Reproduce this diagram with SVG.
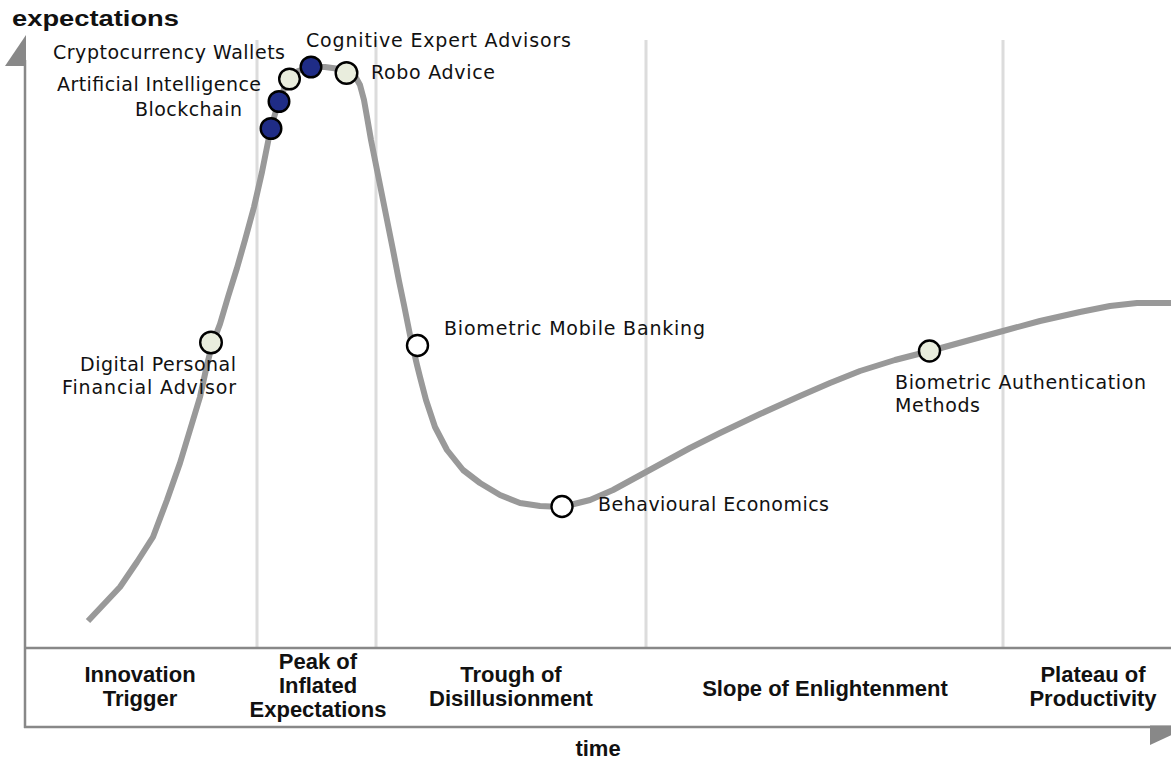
<svg xmlns="http://www.w3.org/2000/svg" width="1171" height="759" viewBox="0 0 1171 759">
<style>
.grid{stroke:#dcdcdc;stroke-width:3;fill:none}
.axis{stroke:#888;stroke-width:2.5;fill:none}
.curve{stroke:#999;stroke-width:6;fill:none;stroke-linejoin:round;stroke-linecap:butt}
.node{stroke:#000;stroke-width:2.4}
.dark{fill:#1f2c86}
.light{fill:#e9eddd}
.white{fill:#fff}
.lbl{font-family:"DejaVu Sans","Verdana",sans-serif;font-size:19px;fill:#111}
.band{font-family:"Liberation Sans","Arial",sans-serif;font-size:22px;font-weight:bold;fill:#111;text-anchor:middle}
.ax{font-family:"Liberation Sans","Arial",sans-serif;font-size:22px;font-weight:bold;fill:#111}
</style>
<rect width="1171" height="759" fill="#fff"/>
<g id="grid">
<line class="grid" x1="257" y1="40" x2="257" y2="648"/>
<line class="grid" x1="376" y1="40" x2="376" y2="648"/>
<line class="grid" x1="646" y1="40" x2="646" y2="648"/>
<line class="grid" x1="1003" y1="40" x2="1003" y2="648"/>
</g>
<g id="axes">
<line class="axis" x1="25" y1="60" x2="25" y2="728"/>
<polygon points="26,35 26,66 5,66" fill="#888"/>
<line class="axis" x1="24" y1="648" x2="1171" y2="648"/>
<line class="axis" x1="24" y1="727" x2="1171" y2="727"/>
<polygon points="1150,725.5 1192,725.5 1150,745" fill="#888"/>
<text class="ax" x="12" y="26" font-size="24" textLength="167" lengthAdjust="spacingAndGlyphs">expectations</text>
<text class="ax" x="598" y="756" text-anchor="middle">time</text>
</g>
<g id="connectors">
<path class="curve" d="M88,621 L104,604 L120,587 L137,562 L153,537 L167,500 L180,463 L190,430 L200,397 L207,365 L212,345 L220,324 L228,297 L237,268 L245,240 L254,207 L262,172 L270,132 L275,114 L280,100 L284,89 L289,80 L298,71 L311,67 L325,67 L340,69 L349,72 L355,76 L360,85 L364,100 L367,117 L371,140 L377,170 L385,210 L393,250 L399,281 L404,305 L408,325 L411,340 L414,352 L417,365 L420,377 L426,400 L435,427 L447,450 L463,470 L480,483 L500,495 L520,503 L540,506 L562,507 L590,500 L613,490 L646,472 L690,448 L720,433 L760,414 L800,396 L830,383 L860,371 L895,360 L930,351 L970,340 L1003,331 L1040,321 L1080,312 L1110,306 L1137,303 L1171,303"/>
</g>
<g id="node-blockchain">
<circle class="node dark" cx="271" cy="128.5" r="10.3"/>
<text class="lbl" x="135" y="116" textLength="107" lengthAdjust="spacing">Blockchain</text>
</g>
<g id="node-ai">
<circle class="node dark" cx="279" cy="101.5" r="10.3"/>
<text class="lbl" x="57" y="91" textLength="204" lengthAdjust="spacing">Artificial Intelligence</text>
</g>
<g id="node-crypto">
<circle class="node light" cx="289.5" cy="79" r="10.3"/>
<text class="lbl" x="53" y="59" textLength="232" lengthAdjust="spacing">Cryptocurrency Wallets</text>
</g>
<g id="node-cognitive">
<circle class="node dark" cx="311" cy="67" r="10.3"/>
<text class="lbl" x="306" y="47" textLength="265" lengthAdjust="spacing">Cognitive Expert Advisors</text>
</g>
<g id="node-robo">
<circle class="node light" cx="346.5" cy="73" r="10.8"/>
<text class="lbl" x="371" y="79" textLength="124" lengthAdjust="spacing">Robo Advice</text>
</g>
<g id="node-dpfa">
<circle class="node light" cx="211" cy="342.5" r="10.8"/>
<text class="lbl" x="80" y="371" textLength="156" lengthAdjust="spacing">Digital Personal</text>
<text class="lbl" x="62" y="394" textLength="174" lengthAdjust="spacing">Financial Advisor</text>
</g>
<g id="node-bmb">
<circle class="node white" cx="417.5" cy="345.5" r="10.5"/>
<text class="lbl" x="444" y="335" textLength="261" lengthAdjust="spacing">Biometric Mobile Banking</text>
</g>
<g id="node-be">
<circle class="node white" cx="562" cy="506.5" r="10.5"/>
<text class="lbl" x="598" y="511" textLength="231" lengthAdjust="spacing">Behavioural Economics</text>
</g>
<g id="node-bam">
<circle class="node light" cx="929.5" cy="351" r="10.5"/>
<text class="lbl" x="895" y="389" textLength="251" lengthAdjust="spacing">Biometric Authentication</text>
<text class="lbl" x="895" y="412" textLength="85" lengthAdjust="spacing">Methods</text>
</g>
<g id="phases">
<text class="band" x="140" y="682">Innovation</text>
<text class="band" x="140" y="706">Trigger</text>
<text class="band" x="318" y="669">Peak of</text>
<text class="band" x="318" y="693">Inflated</text>
<text class="band" x="318" y="717">Expectations</text>
<text class="band" x="511" y="682">Trough of</text>
<text class="band" x="511" y="706">Disillusionment</text>
<text class="band" x="825" y="696">Slope of Enlightenment</text>
<text class="band" x="1093" y="682">Plateau of</text>
<text class="band" x="1093" y="706">Productivity</text>
</g>
</svg>
